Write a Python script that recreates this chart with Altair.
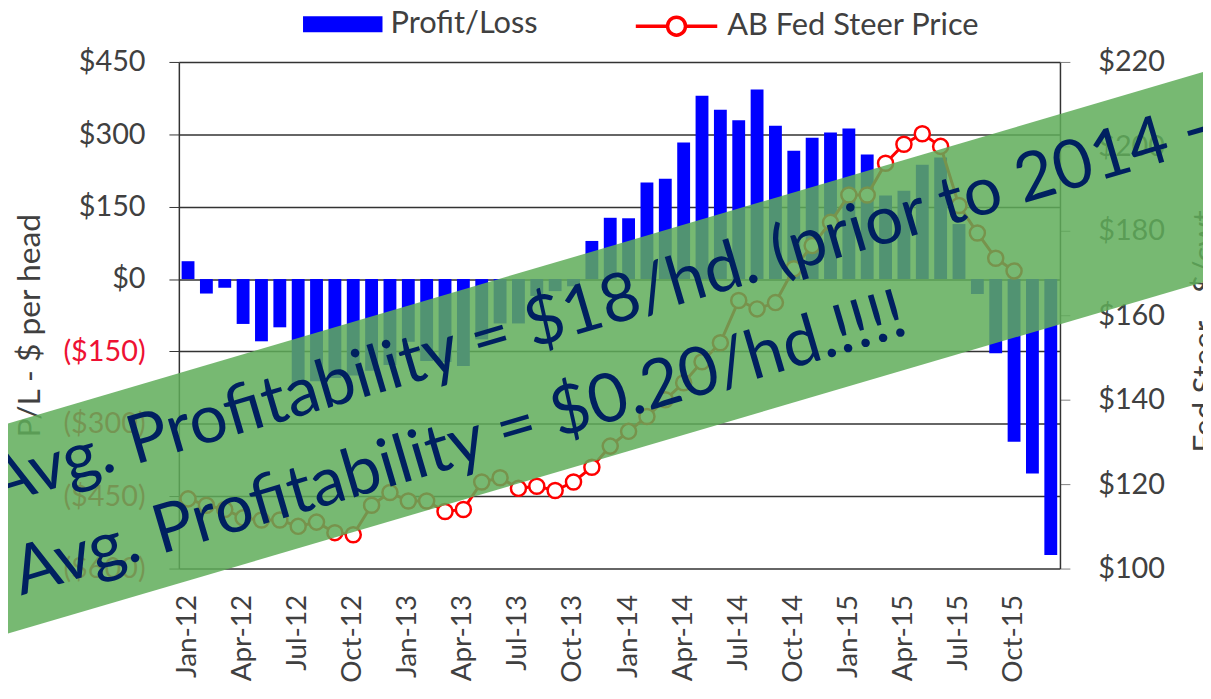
import altair as alt
import pandas as pd

# ---------------- data ----------------
month_names = ["Jan", "Feb", "Mar", "Apr", "May", "Jun",
               "Jul", "Aug", "Sep", "Oct", "Nov", "Dec"]
years = ["12", "13", "14", "15"]
months = [f"{m}-{y}" for y in years for m in month_names]
tick_months = [f"{m}-{y}" for y in years for m in ["Jan", "Apr", "Jul", "Oct"]]

profit_loss = [37, -30, -18, -93, -129, -100, -218, -212, -205, -200, -190, -178,
               -130, -170, -172, -180, -125, -92, -92, -35, -25, -15, 79, 127,
               126, 200, 208, 283, 380, 351, 329, 393, 318, 266, 293, 304,
               312, 258, 173, 183, 237, 252, 114, -31, -154, -337, -403, -572]

steer_price = [116.5, 115, 114, 112, 111.5, 111.5, 110, 111, 108.5, 108, 115, 118,
               116, 116, 113.5, 114, 120.5, 121.5, 119, 119.5, 118.5, 120.5, 124, 129,
               132.5, 136, 140, 144, 149, 153.5, 163.5, 161.5, 163, 171, 176.5, 182,
               188.5, 188.5, 196, 200.5, 203, 200, 186, 179.5, 173.5, 170.5, None, None]

pl_ticks = [-600, -450, -300, -150, 0, 150, 300, 450]
price_ticks = [100, 120, 140, 160, 180, 200, 220]

# annotation banner (in month-index / P&L units)
banner_idx = [-15.65, 60.1]
banner_val = [-582.3, 265.1]
banner_texts = ["Avg. Profitability = $18/hd. (prior to 2014 - 2015)",
                "Avg. Profitability = $0.20/hd.!!!!"]
banner_text_idx = [-10.50, -9.10]
banner_text_val = [-470.0, -655.6]

df = pd.DataFrame({"month": months, "pl": profit_loss, "price": steer_price,
                   "s1": "Profit/Loss", "s2": "AB Fed Steer Price"})
banner_df = pd.DataFrame({"i": banner_idx, "v": banner_val})
text_df = pd.DataFrame({"i": banner_text_idx, "v": banner_text_val, "t": banner_texts})

FONT = "Lato"
GREY = "#404040"
W, H = 887, 510

x_enc = alt.X("month:N", sort=months,
              scale=alt.Scale(domain=months, paddingInner=0.3, paddingOuter=0.15),
              axis=alt.Axis(values=tick_months, labelAngle=270, labelFontSize=28,
                            labelFont=FONT, labelColor=GREY, ticks=False, domain=False,
                            labelPadding=26, title=None, grid=False))
x_enc_hidden = alt.X("month:N", sort=months,
                     scale=alt.Scale(domain=months, paddingInner=0.3, paddingOuter=0.15),
                     axis=None)

bars = alt.Chart(df).mark_bar(color="#0000ff").encode(
    x=x_enc,
    y=alt.Y("pl:Q",
            scale=alt.Scale(domain=[-600, 450], nice=False, zero=False),
            axis=alt.Axis(values=pl_ticks,
                          labelExpr="datum.value < 0 ? '($' + abs(datum.value) + ')' : '$' + datum.value",
                          labelColor={"condition": {"test": "datum.value < 0", "value": "#ee1133"},
                                      "value": GREY},
                          labelFontSize=29, labelFont=FONT, labelPadding=24,
                          tickSize=10, tickColor="#333333", domainColor="#333333",
                          domainWidth=1.5, grid=True, gridColor="#333333", gridWidth=1.5,
                          title="P/L - $ per head", titleFont=FONT, titleFontSize=32,
                          titleFontWeight="normal", titleColor=GREY, titleAngle=270,
                          titleX=-150, titleY=265, titleAlign="center", titleBaseline="middle")),
    color=alt.Color("s1:N", scale=alt.Scale(domain=["Profit/Loss"], range=["#0000ff"]),
                    legend=alt.Legend(title=None, orient="none", legendX=125, legendY=-78,
                                      symbolType="M-1,-0.2H1V0.2H-1Z", symbolSize=6400,
                                      symbolStrokeWidth=0, labelFont=FONT, labelFontSize=31,
                                      labelColor=GREY, labelOffset=8, padding=0,
                                      labelLimit=400))
)

price = alt.Chart(df).mark_line(
    strokeWidth=3,
    point=alt.OverlayMarkDef(shape="circle", size=230, filled=True, fill="white",
                             stroke="#ff0000", strokeWidth=2.5)
).encode(
    x=x_enc_hidden,
    y=alt.Y("price:Q",
            scale=alt.Scale(domain=[100, 220], nice=False, zero=False),
            axis=alt.Axis(orient="right", values=price_ticks, labelExpr="'$' + datum.value",
                          labelFontSize=29, labelFont=FONT, labelColor=GREY, labelPadding=28,
                          tickSize=10, tickColor="#808080", domainColor="#333333",
                          domainWidth=1.5, grid=False,
                          title="Fed Steer - $/cwt", titleFont=FONT, titleFontSize=32,
                          titleFontWeight="normal", titleColor=GREY, titleAngle=270,
                          titleX=146, titleY=271, titleAlign="center", titleBaseline="middle")),
    stroke=alt.Stroke("s2:N", scale=alt.Scale(domain=["AB Fed Steer Price"], range=["#ff0000"]),
                      legend=alt.Legend(title=None, orient="none", legendX=458, legendY=-79,
                                        symbolType="M-1,0H-0.22M0.22,0H1M-0.22,0A0.22,0.22,0,1,1,0.22,0A0.22,0.22,0,1,1,-0.22,0",
                                        symbolSize=6724, symbolStrokeWidth=3.5,
                                        labelFont=FONT, labelFontSize=31, labelColor=GREY,
                                        labelOffset=8, padding=0, labelLimit=400))
)

bx = alt.Scale(domain=[-0.5, 47.5], nice=False, zero=False)
by = alt.Scale(domain=[-600, 450], nice=False, zero=False)

banner = alt.Chart(banner_df).mark_line(
    color="#5fad59", opacity=0.85, strokeWidth=203, strokeCap="butt"
).encode(
    x=alt.X("i:Q", scale=bx, axis=None),
    y=alt.Y("v:Q", scale=by, axis=None),
)

btext = alt.Chart(text_df).mark_text(
    align="left", baseline="alphabetic", angle=343.6, font=FONT, fontSize=68,
    color="#002060"
).encode(
    x=alt.X("i:Q", scale=bx, axis=None),
    y=alt.Y("v:Q", scale=by, axis=None),
    text="t:N",
)

chart = alt.layer(bars, price, banner, btext).resolve_scale(
    x="independent", y="independent", color="independent", stroke="independent"
).resolve_legend(color="independent", stroke="independent").properties(
    width=W, height=H,
    autosize=alt.AutoSizeParams(type="none"),
    padding={"left": 172, "top": 52, "right": 144, "bottom": 127},
).configure_view(stroke=None)

chart.save("out.html", embed_options={"renderer": "svg", "actions": False})
